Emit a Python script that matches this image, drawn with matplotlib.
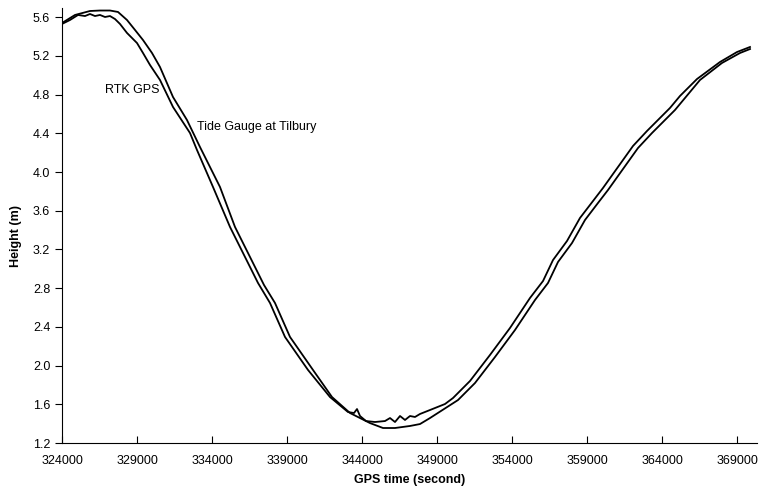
import matplotlib.pyplot as plt

plt.rcParams['font.family'] = ['Liberation Sans', 'DejaVu Sans']

# Tide gauge at Tilbury (smooth curve)
tide_t = [324000, 324867, 325867, 326533, 327200, 327733, 328333, 328867, 329400,
          330000, 330533, 331400, 332333, 333200, 334533, 335533, 336400, 337467,
          338200, 339200, 340733, 342000, 343200, 344533, 345400, 346200, 347200,
          347867, 348533, 350400, 351533, 352867, 354200, 355533, 356400, 357067,
          358000, 358867, 359733, 360400, 362400, 363333, 364867, 365533, 366533,
          368000, 369200, 369867]
tide_h = [5.541, 5.624, 5.665, 5.670, 5.670, 5.655, 5.572, 5.469, 5.365,
          5.231, 5.086, 4.776, 4.538, 4.259, 3.846, 3.433, 3.164, 2.833,
          2.647, 2.296, 1.955, 1.675, 1.510, 1.406, 1.355, 1.355, 1.376,
          1.396, 1.458, 1.644, 1.820, 2.089, 2.368, 2.678, 2.854, 3.071,
          3.267, 3.505, 3.681, 3.815, 4.249, 4.404, 4.642, 4.766, 4.952,
          5.128, 5.231, 5.272]

# RTK GPS (noisier curve)
rtk_t = [324000, 324533, 325067, 325533, 325867, 326200, 326533, 326867, 327200,
         327533, 327867, 328333, 328667, 329000, 329400, 329867, 330533, 331400,
         332533, 333000, 334067, 335200, 336067, 337067, 337867, 338867, 340400,
         341867, 343067, 343467, 343667, 343867, 344267, 344867, 345533, 345867,
         346200, 346533, 346867, 347200, 347533, 347867, 348533, 349533, 350067,
         351200, 352533, 353867, 355200, 356067, 356733, 357667, 358533, 359400,
         360067, 362067, 363000, 364533, 365200, 366333, 367867, 369000, 369867]
rtk_h = [5.531, 5.572, 5.624, 5.613, 5.634, 5.613, 5.624, 5.603, 5.613,
         5.582, 5.531, 5.438, 5.386, 5.334, 5.231, 5.107, 4.952, 4.673,
         4.404, 4.228, 3.846, 3.433, 3.164, 2.854, 2.647, 2.296, 1.955,
         1.675, 1.520, 1.510, 1.551, 1.479, 1.427, 1.417, 1.427, 1.458,
         1.417, 1.479, 1.438, 1.479, 1.469, 1.500, 1.541, 1.603, 1.665,
         1.841, 2.110, 2.389, 2.699, 2.874, 3.091, 3.288, 3.526, 3.701,
         3.836, 4.270, 4.425, 4.663, 4.787, 4.962, 5.138, 5.241, 5.293]

x_ticks = list(range(324000, 370000, 5000))
y_ticks = [1.2, 1.6, 2.0, 2.4, 2.8, 3.2, 3.6, 4.0, 4.4, 4.8, 5.2, 5.6]

fig = plt.figure(figsize=(7.59, 4.88), dpi=100)
ax = fig.add_axes([62 / 759, 45 / 488, 695 / 759, 435 / 488])

ax.plot(tide_t, tide_h, color='black', lw=1.3)
ax.plot(rtk_t, rtk_h, color='black', lw=1.3)

ax.text(326867, 4.85, 'RTK GPS', fontsize=9, va='center')
ax.text(333000, 4.466, 'Tide Gauge at Tilbury', fontsize=9, va='center')

ax.set_xlim(324000, 370333)
ax.set_ylim(1.2, 5.696)
ax.set_xticks(x_ticks)
ax.set_xticklabels([str(t) for t in x_ticks])
ax.set_yticks(y_ticks)
ax.set_yticklabels(['%.1f' % v for v in y_ticks])
ax.tick_params(axis='x', direction='in', length=5, labelsize=9, pad=9)
ax.tick_params(axis='y', direction='out', length=5, labelsize=9)

ax.spines['top'].set_visible(False)
ax.spines['right'].set_visible(False)

ax.set_xlabel('GPS time (second)', fontsize=9, fontweight='bold', labelpad=5)
ax.set_ylabel('Height (m)', fontsize=9, fontweight='bold')
ax.yaxis.set_label_coords(-0.058, 0.476)

fig.savefig('out.png', dpi=100)
